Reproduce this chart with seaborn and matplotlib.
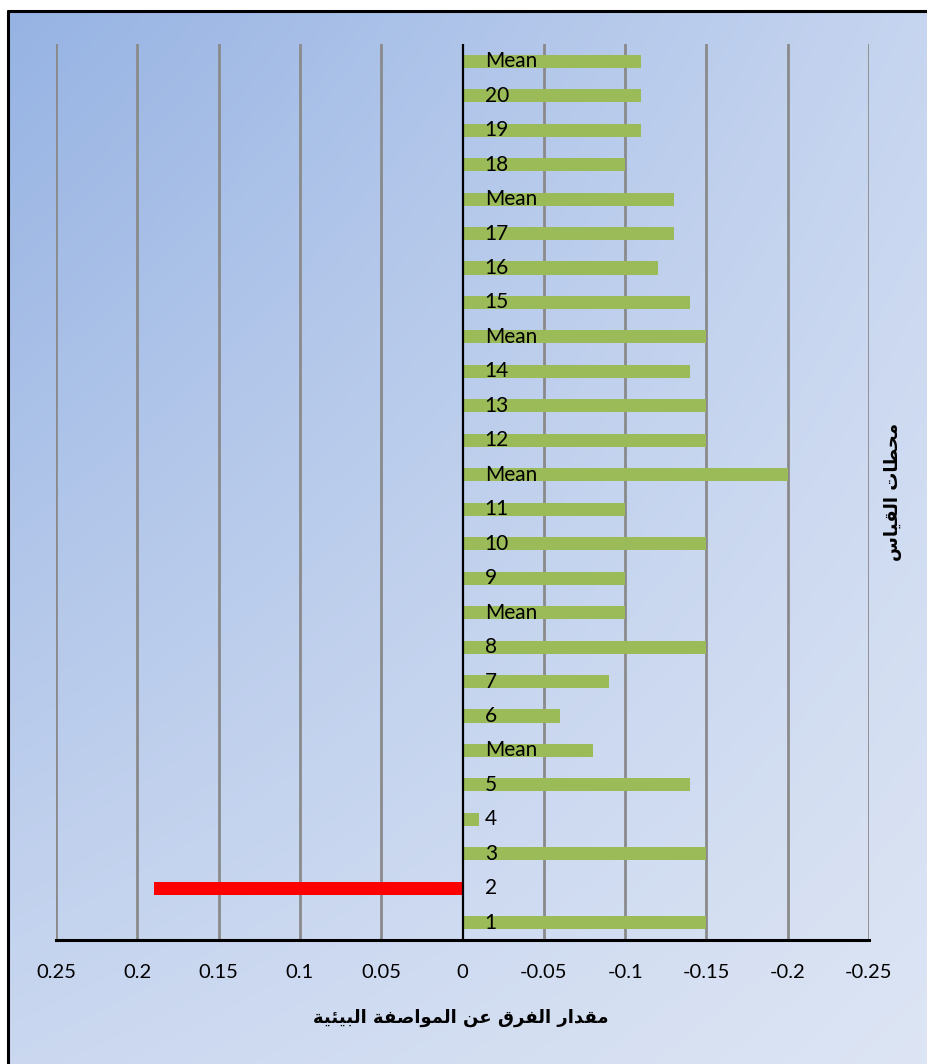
import numpy as np
import pandas as pd
import matplotlib
matplotlib.use("Agg")
import matplotlib.pyplot as plt
from matplotlib.lines import Line2D
import seaborn as sns

# Stations listed from the bottom of the chart to the top
station_labels = ["1", "2", "3", "4", "5", "Mean", "6", "7", "8", "Mean",
                  "9", "10", "11", "Mean", "12", "13", "14", "Mean",
                  "15", "16", "17", "Mean", "18", "19", "20", "Mean"]
deviation = [-0.15, 0.19, -0.15, -0.01, -0.14, -0.08, -0.06, -0.09, -0.15, -0.10,
             -0.10, -0.15, -0.10, -0.20, -0.15, -0.15, -0.14, -0.15,
             -0.14, -0.12, -0.13, -0.13, -0.10, -0.11, -0.11, -0.11]
tick_values = [0.25, 0.2, 0.15, 0.1, 0.05, 0, -0.05, -0.1, -0.15, -0.2, -0.25]
tick_labels = ["0.25", "0.2", "0.15", "0.1", "0.05", "0", "-0.05", "-0.1", "-0.15", "-0.2", "-0.25"]
x_title = "مقدار الفرق عن المواصفة البيئية"
y_title = "محطات القياس"

GREEN = "#9bbb59"
RED = "#ff0000"


def shape_arabic(text):
    """Join Arabic letters into presentation forms and order them for LTR drawing."""
    base = {  # letter: (isolated form, dual-joining)
        "ئ": (0xFE89, True), "ا": (0xFE8D, False), "ب": (0xFE8F, True),
        "ة": (0xFE93, False), "ت": (0xFE95, True), "ح": (0xFEA1, True),
        "د": (0xFEA9, False), "ر": (0xFEAD, False), "س": (0xFEB1, True),
        "ص": (0xFEB9, True), "ط": (0xFEC1, True), "ع": (0xFEC9, True),
        "ف": (0xFED1, True), "ق": (0xFED5, True), "ل": (0xFEDD, True),
        "م": (0xFEE1, True), "ن": (0xFEE5, True), "و": (0xFEED, False),
        "ي": (0xFEF1, True),
    }
    out = []
    for i, ch in enumerate(text):
        if ch not in base:
            out.append(ch)
            continue
        code, dual = base[ch]
        prev = text[i - 1] if i > 0 else ""
        nxt = text[i + 1] if i + 1 < len(text) else ""
        join_prev = prev in base and base[prev][1]
        join_next = dual and nxt in base
        if join_prev and join_next:
            code += 3
        elif join_prev:
            code += 1
        elif join_next:
            code += 2
        out.append(chr(code))
    return "".join(out)[::-1]


sns.set_theme(style="white")
plt.rcParams["font.family"] = ["Lato", "DejaVu Sans"]

fig = plt.figure(figsize=(9.27, 10.64), dpi=100, facecolor="white")
W, H = 927, 1064

# Soft diagonal blue gradient behind the chart, inside the outer frame
fx, fy = 8 / W, 1 - 11 / H
bg_ax = fig.add_axes([fx, -0.02, 1.04 - fx, fy + 0.02], zorder=-10)
tl = np.array([150, 179, 227]) / 255
tr = np.array([200, 214, 240]) / 255
bl = np.array([203, 216, 240]) / 255
br = np.array([222, 230, 244]) / 255
u = np.linspace(0, 1, 200)[None, :, None]
v = np.linspace(0, 1, 200)[:, None, None]
grad = (1 - u) * (1 - v) * tl + u * (1 - v) * tr + (1 - u) * v * bl + u * v * br
bg_ax.imshow(grad, aspect="auto", extent=[0, 1, 0, 1], interpolation="bilinear")
bg_ax.set_axis_off()

# Outer frame: top and left edges only (it continues past the image)
fig.lines.append(Line2D([fx, 1.05], [fy, fy], transform=fig.transFigure,
                        color="black", linewidth=2.2, zorder=5))
fig.lines.append(Line2D([fx, fx], [-0.05, fy], transform=fig.transFigure,
                        color="black", linewidth=2.2, zorder=5))

ax = fig.add_axes([56 / W, 124 / H, (869 - 56) / W, (940 - 44) / H])
ax.set_facecolor("none")

keys = [f"{lab}_{i}" for i, lab in enumerate(station_labels)]
df = pd.DataFrame({"key": keys, "label": station_labels, "value": deviation})
df["sign"] = np.where(df["value"] > 0, "above", "below")
order = keys[::-1]  # top of the chart first

sns.barplot(data=df, x="value", y="key", hue="sign", order=order,
            palette={"above": RED, "below": GREEN}, orient="h",
            width=0.38, dodge=False, legend=False, saturation=1,
            linewidth=0, ax=ax, zorder=3)

ax.set_xlim(0.25, -0.25)
ax.set_ylim(len(order) - 0.5, -0.5)

# Vertical gridlines and the zero line
for t in tick_values:
    if t == 0:
        ax.axvline(t, color="black", linewidth=1.6, zorder=4)
    else:
        ax.axvline(t, color="#8a8a8a", linewidth=2.0, zorder=1)

# Station names sit just right of the zero line
for pos, key in enumerate(order):
    lab = df.loc[df["key"] == key, "label"].iloc[0]
    ax.annotate(lab, xy=(0, pos), xytext=(16, 0), textcoords="offset points",
                ha="left", va="center", fontsize=15, color="black", zorder=6)

ax.set_xticks(tick_values)
ax.set_xticklabels(tick_labels, fontsize=14.5, color="black")
ax.tick_params(axis="x", length=0, pad=17)
ax.set_yticks([])
ax.set_ylabel("")
ax.set_xlabel("")
for side in ["top", "left", "right"]:
    ax.spines[side].set_visible(False)
ax.spines["bottom"].set_color("black")
ax.spines["bottom"].set_linewidth(2.2)
ax.spines["bottom"].set_zorder(5)

fig.text(461 / W, 1 - 1018 / H, shape_arabic(x_title), ha="center", va="center",
         fontsize=13, fontweight="bold", family=["DejaVu Sans"], color="black")
fig.text(893 / W, 1 - 492 / H, shape_arabic(y_title), ha="center", va="center",
         rotation=90, fontsize=13, fontweight="bold", family=["DejaVu Sans"],
         color="black")

fig.savefig("out.png", dpi=100)
